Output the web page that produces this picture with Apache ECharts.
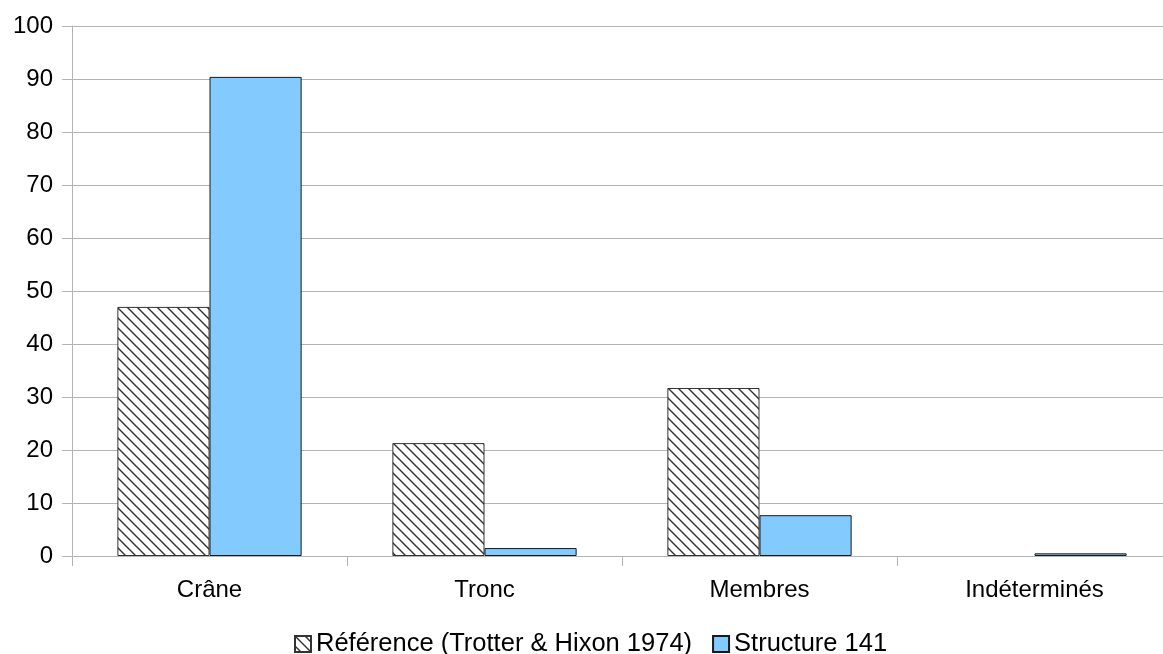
<!DOCTYPE html>
<html><head><meta charset="utf-8">
<script src="https://cdn.jsdelivr.net/npm/echarts@6/dist/echarts.min.js"></script>
<style>html,body{margin:0;padding:0;background:#fff}#c{width:1163px;height:654px}</style>
</head><body><div id="c"></div>
<script>
const categories = ['Crâne', 'Tronc', 'Membres', 'Indéterminés'];
const referenceValues = [47.0, 21.3, 31.7, 0];
const structureValues = [90.4, 1.5, 7.7, 0.5];
const seriesNames = ['Référence (Trotter & Hixon 1974)', 'Structure 141'];

function hatch() {
  const s = 10;
  const cv = document.createElement('canvas');
  cv.width = s; cv.height = s;
  const g = cv.getContext('2d');
  g.fillStyle = '#fff'; g.fillRect(0, 0, s, s);
  g.strokeStyle = '#333'; g.lineWidth = 1.4;
  g.beginPath();
  g.moveTo(-2, -2); g.lineTo(s + 2, s + 2);
  g.moveTo(-2, s - 2); g.lineTo(2, s + 2);
  g.moveTo(s - 2, -2); g.lineTo(s + 2, 2);
  g.stroke();
  return { image: cv, repeat: 'repeat' };
}

function toData(vals) {
  return vals.map(v => v === 0 ? { value: v, itemStyle: { borderWidth: 0, opacity: 0 } } : v);
}

const chart = echarts.init(document.getElementById('c'));
const font = 'Liberation Sans, Arial, sans-serif';
chart.setOption({
  animation: false,
  textStyle: { fontFamily: font },
  grid: { left: 72, width: 1100, top: 26, height: 530, containLabel: false, outerBoundsMode: 'none' },
  legend: {
    top: 626, left: 289, icon: 'rect', itemWidth: 16, itemHeight: 16, itemGap: 20,
    textStyle: { fontSize: 25.5, color: '#000', fontFamily: font, padding: [0, 0, 0, 0] },
    data: seriesNames
  },
  xAxis: {
    type: 'category', data: categories,
    axisLine: { lineStyle: { color: '#b3b3b3' } },
    axisTick: { show: true, length: 10, lineStyle: { color: '#b3b3b3' } },
    axisLabel: { fontSize: 24, color: '#000', margin: 22, fontFamily: font }
  },
  yAxis: {
    type: 'value', min: 0, max: 100, interval: 10,
    axisLine: { show: true, lineStyle: { color: '#b3b3b3' } },
    axisTick: { show: true, length: 10, lineStyle: { color: '#b3b3b3' } },
    axisLabel: { fontSize: 24, color: '#000', margin: 19, fontFamily: font },
    splitLine: { lineStyle: { color: '#b3b3b3' } }
  },
  series: [
    {
      name: seriesNames[0], type: 'bar', data: toData(referenceValues),
      barGap: '0%', barCategoryGap: '33%',
      itemStyle: { color: hatch(), borderColor: '#333', borderWidth: 1 }
    },
    {
      name: seriesNames[1], type: 'bar', data: toData(structureValues),
      barGap: '0%', barCategoryGap: '33%',
      itemStyle: { color: '#83caff', borderColor: '#1a1a1a', borderWidth: 1 }
    }
  ]
});
</script></body></html>
